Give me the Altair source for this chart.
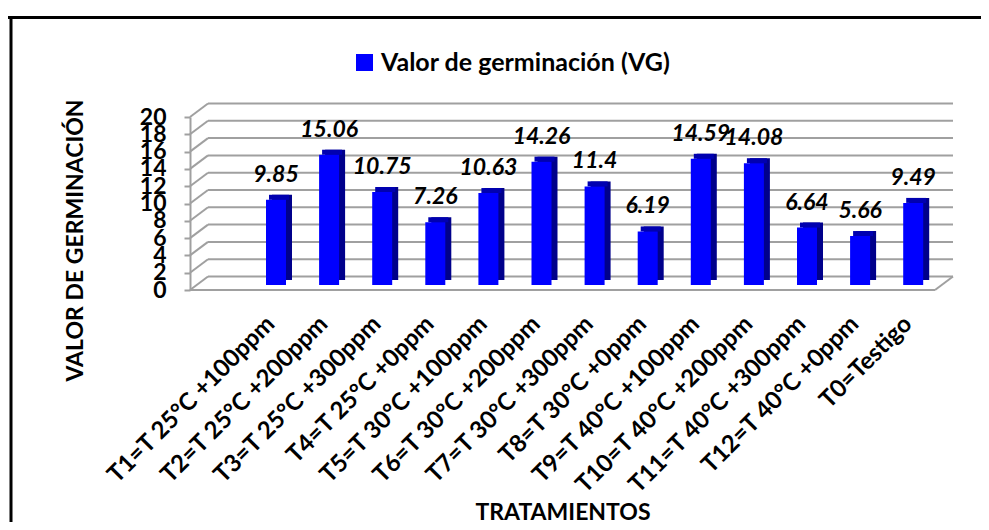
import altair as alt
import pandas as pd

# ---- data ----
treatments = [
    "T1=T 25°C +100ppm", "T2=T 25°C +200ppm", "T3=T 25°C +300ppm", "T4=T 25°C +0ppm",
    "T5=T 30°C +100ppm", "T6=T 30°C +200ppm", "T7=T 30°C +300ppm", "T8=T 30°C +0ppm",
    "T9=T 40°C +100ppm", "T10=T 40°C +200ppm", "T11=T 40°C +300ppm", "T12=T 40°C +0ppm",
    "T0=Testigo",
]
values = [9.85, 15.06, 10.75, 7.26, 10.63, 14.26, 11.4, 6.19, 14.59, 14.08, 6.64, 5.66, 9.49]
y_ticks = [0, 2, 4, 6, 8, 10, 12, 14, 16, 18, 20]
series_name = "Valor de germinación (VG)"
y_title = "VALOR DE GERMINACIÓN"
x_title = "TRATAMIENTOS"

# ---- layout / style ----
W, H = 745, 173
DX, DY = 18, -13.5          # back-wall offset of the 3D box
FONT = "Lato"
FS = 23
GRID = "#A0A0A0"
FRONT = "#0000FF"
SIDE = "#00008B"
TOP = "#0000B0"

df = pd.DataFrame({"tratamiento": treatments, "valor": values, "serie": series_name})
grid_df = pd.DataFrame({"v": y_ticks})
one = pd.DataFrame({"k": [0]})

yscale = alt.Scale(domain=[0, 20], nice=False, zero=True)
xscale = alt.Scale(domain=treatments, range=[59.45, 749.75], paddingInner=0, paddingOuter=0)

xaxis = alt.Axis(
    title=x_title, labelAngle=315, labelAlign="right", labelBaseline="middle",
    labelPadding=30, labelOffset=-5, ticks=False, tickSize=0, domain=False, grid=False,
    labelOverlap=False, labelLimit=400, labelFont=FONT, labelFontSize=24,
    labelFontWeight="bold", labelColor="black",
    titleFont=FONT, titleFontSize=FS, titleFontWeight="bold", titleColor="black",
    titleX=W / 2, titleY=229, titleAlign="center", titleBaseline="alphabetic",
)
yaxis = alt.Axis(
    values=y_ticks, title=y_title, grid=False,
    domain=True, domainColor=GRID, domainWidth=2,
    ticks=True, tickColor=GRID, tickWidth=2, tickSize=6,
    labelFont=FONT, labelFontSize=FS, labelFontWeight="bold", labelColor="black",
    labelPadding=18, labelOverlap=False, labelFlush=False,
    titleFont=FONT, titleFontSize=FS, titleFontWeight="bold", titleColor="black",
    titleX=-115, titleY=123, titleAngle=270, titleAlign="center", titleBaseline="middle",
)

def Yq(f):
    return alt.Y(f, scale=yscale, axis=yaxis)

X = alt.X("tratamiento:N", scale=xscale, sort=treatments, axis=xaxis)

base_grid = alt.Chart(grid_df)

# back wall gridlines
grid = base_grid.mark_rule(color=GRID, strokeWidth=2, yOffset=DY).encode(
    x=alt.value(DX), x2=alt.value(W + DX), y=Yq("v:Q")
)
# left wall diagonals
diag = base_grid.mark_rule(color=GRID, strokeWidth=2, y2Offset=DY).encode(
    x=alt.value(0), x2=alt.value(DX), y=Yq("v:Q"), y2="v:Q"
)
# floor front edge and right edge
floor_front = base_grid.transform_filter(alt.datum.v == 0).mark_rule(color=GRID, strokeWidth=2).encode(
    x=alt.value(0), x2=alt.value(W), y=Yq("v:Q")
)
floor_right = base_grid.transform_filter(alt.datum.v == 0).mark_rule(
    color=GRID, strokeWidth=2, y2Offset=DY
).encode(x=alt.value(W), x2=alt.value(W + DX), y=Yq("v:Q"), y2="v:Q")

base = alt.Chart(df)

side = base.mark_bar(size=20, color=SIDE, xOffset=6, yOffset=-10, y2Offset=-10).encode(
    x=X, y=Yq("valor:Q"), y2=alt.datum(0)
)
top = base.mark_bar(size=20, color=TOP, xOffset=3, yOffset=-10, y2Offset=-5).encode(
    x=X, y=Yq("valor:Q"), y2="valor:Q"
)
front = base.mark_bar(size=20, yOffset=-5, y2Offset=-5).encode(
    x=X,
    y=Yq("valor:Q"),
    y2=alt.datum(0),
    color=alt.Color(
        "serie:N", scale=alt.Scale(range=[FRONT]),
        legend=alt.Legend(
            title=None, orient="none", legendX=162, legendY=-67, padding=0,
            symbolType="square", symbolSize=289, symbolStrokeWidth=0, symbolOpacity=1,
            labelFont=FONT, labelFontSize=25, labelFontWeight="bold", labelColor="black",
            labelOffset=4, labelLimit=500,
        ),
    ),
)
labels = base.mark_text(
    dy=-23, baseline="alphabetic", align="center", font=FONT, fontSize=FS,
    fontWeight="bold", fontStyle="italic", color="black",
).encode(x=X, y=Yq("valor:Q"), text=alt.Text("valor:Q"))

# outer frame (top and left edges visible in the reference)
frame_top = alt.Chart(one).mark_rule(color="black", strokeWidth=3).encode(
    x=alt.value(-182), x2=alt.value(791), y=alt.value(-99.5)
)
frame_left = alt.Chart(one).mark_rule(color="black", strokeWidth=3).encode(
    x=alt.value(-179), y=alt.value(-101), y2=alt.value(405)
)

chart = alt.layer(
    grid, diag, floor_front, floor_right, side, top, front, labels, frame_top, frame_left
).properties(
    width=W, height=H,
    autosize=alt.AutoSizeParams(type="none"),
    padding={"left": 182, "top": 109, "right": 46, "bottom": 232},
    background="white",
).configure_view(stroke=None)

chart.save("out.html", embed_options={"renderer": "svg", "actions": False})
